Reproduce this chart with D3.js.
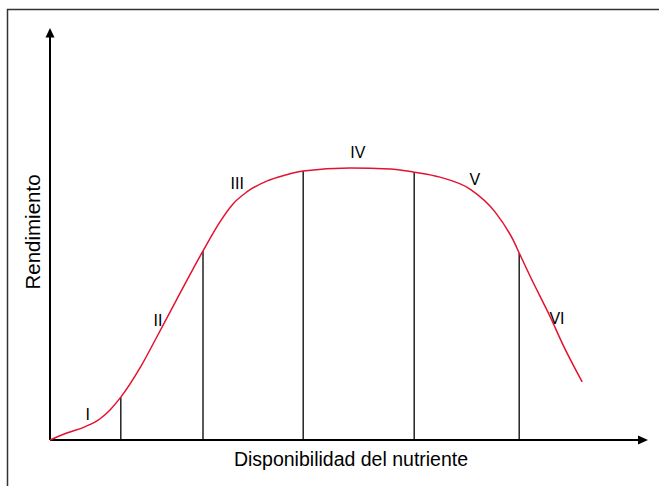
<!DOCTYPE html>
<html>
<head>
<meta charset="utf-8">
<script src="https://cdn.jsdelivr.net/npm/d3@7"></script>
<style>
  body { margin: 0; background: #fff; }
  svg { display: block; font-family: "Liberation Sans", Arial, sans-serif; }
</style>
</head>
<body>
<div id="app"></div>
<script>
const width = 659
const height = 486

// response curve: nutrient availability vs yield (arbitrary units)
const nutrient = [0, 0.28, 0.58, 0.83, 1.0, 1.18, 1.5, 1.78, 2.17, 2.55, 2.83, 3.05, 3.28, 3.62, 3.92, 4.22, 5.0, 5.67, 6.07, 6.5, 7.0, 7.42, 7.72, 7.82, 8.0, 8.33, 8.55, 8.87]
const yieldValues = [0, 0.17, 0.32, 0.51, 0.73, 1.04, 1.75, 2.5, 3.57, 4.59, 5.29, 5.73, 6.02, 6.29, 6.43, 6.53, 6.6, 6.58, 6.5, 6.38, 6.09, 5.53, 4.85, 4.54, 3.98, 3.01, 2.31, 1.41]

// limits between the zones
const boundaries = [1.18, 2.55, 4.22, 6.07, 7.82]

// zone names and where they sit
const zones = ["I", "II", "III", "IV", "V", "VI"]
const zoneX = [0.63, 1.8, 3.12, 5.13, 7.08, 8.45]
const zoneY = [0.63, 2.91, 6.24, 6.97, 6.33, 2.94]

const xLabel = "Disponibilidad del nutriente"
const yLabel = "Rendimiento"

const x = d3.scaleLinear().domain([0, 10]).range([50, 650])
const y = d3.scaleLinear().domain([0, 10]).range([440, 28])

const points = nutrient.map((n, i) => ({ x: n, y: yieldValues[i] }))

const svg = d3.select("#app").append("svg")
    .attr("width", width)
    .attr("height", height)

// frame
svg.append("rect")
    .attr("x", 7.5).attr("y", 9.5)
    .attr("width", 700).attr("height", 600)
    .attr("fill", "none")
    .attr("stroke", "#333")
    .attr("stroke-width", 1.5)

// zone dividers
svg.append("g")
    .selectAll("line")
    .data(boundaries)
    .join("line")
    .attr("x1", d => x(d)).attr("x2", d => x(d))
    .attr("y1", y(0))
    .attr("y2", d => y(points.find(p => p.x === d).y))
    .attr("stroke", "#222")
    .attr("stroke-width", 1.5)

// axes
const x0 = x.range()[0], x1 = x.range()[1]
const y0 = y.range()[0], y1 = y.range()[1]

svg.append("line")
    .attr("x1", x0).attr("x2", x1 - 12)
    .attr("y1", y0).attr("y2", y0)
    .attr("stroke", "#000").attr("stroke-width", 2)
svg.append("path")
    .attr("d", `M${x1 - 2},${y0} L${x1 - 12},${y0 - 4.5} L${x1 - 12},${y0 + 4.5} Z`)
    .attr("fill", "#000")

svg.append("line")
    .attr("x1", x0).attr("x2", x0)
    .attr("y1", y0).attr("y2", y1 + 9)
    .attr("stroke", "#000").attr("stroke-width", 2)
svg.append("path")
    .attr("d", `M${x0},${y1} L${x0 - 4.5},${y1 + 9.5} L${x0 + 4.5},${y1 + 9.5} Z`)
    .attr("fill", "#000")

// curve
const line = d3.line()
    .x(d => x(d.x))
    .y(d => y(d.y))
    .curve(d3.curveMonotoneX)

svg.append("path")
    .datum(points)
    .attr("d", line)
    .attr("fill", "none")
    .attr("stroke", "#e3132f")
    .attr("stroke-width", 1.5)

// zone labels
svg.append("g")
    .selectAll("text")
    .data(zones)
    .join("text")
    .attr("x", (d, i) => x(zoneX[i]))
    .attr("y", (d, i) => y(zoneY[i]))
    .attr("dy", "0.35em")
    .attr("text-anchor", "middle")
    .attr("font-size", 16)
    .attr("fill", "#000")
    .text(d => d)

// axis titles
svg.append("text")
    .attr("x", 351).attr("y", 466)
    .attr("text-anchor", "middle")
    .attr("font-size", 19.5)
    .attr("fill", "#000")
    .text(xLabel)

svg.append("text")
    .attr("transform", "translate(40,232) rotate(-90)")
    .attr("text-anchor", "middle")
    .attr("font-size", 20.5)
    .attr("fill", "#000")
    .text(yLabel)
</script>
</body>
</html>
